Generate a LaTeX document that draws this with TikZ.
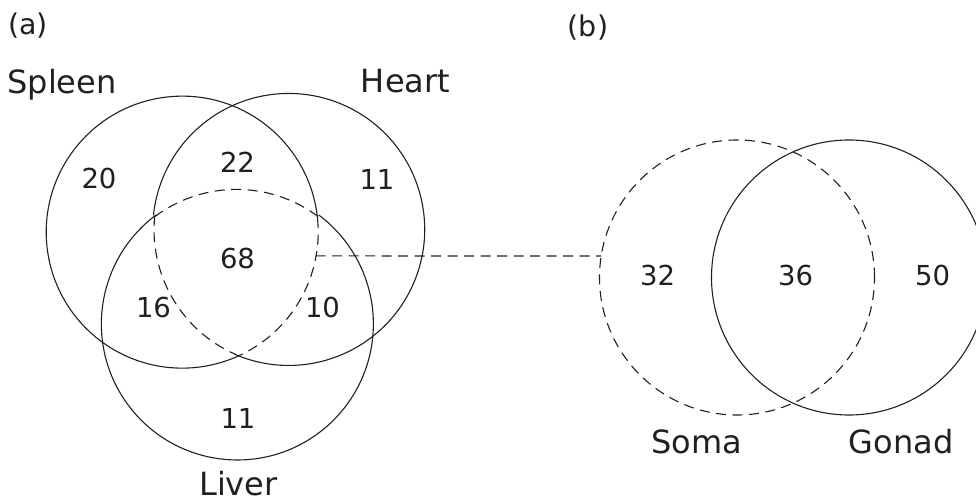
\documentclass[tikz,border=0pt]{standalone}
\usepackage{fontspec}
\setmainfont{DejaVu Sans}
\definecolor{ink}{RGB}{35,31,32}
\begin{document}
\begin{tikzpicture}[x=1pt,y=1pt,
  set/.style={circle, draw=none, inner sep=0pt, outer sep=0pt, minimum size=272pt},
  bigset/.style={circle, draw=none, inner sep=0pt, outer sep=0pt, minimum size=275pt},
  solidline/.style={draw=ink, line width=1.1pt},
  dashline/.style={draw=ink, line width=1.1pt, dash pattern=on 10pt off 6.5pt},
  lbl/.style={inner sep=0pt, anchor=base, text=ink, font=\fontsize{32}{38}\selectfont},
  num/.style={inner sep=0pt, anchor=base, text=ink, font=\fontsize{27.5}{32}\selectfont},
  tag/.style={inner sep=0pt, anchor=center, text=ink, font=\fontsize{28.5}{34}\selectfont}]
\useasboundingbox (0,0) rectangle (976,502);
\clip (0,0) rectangle (976,502);
% (a) sets
\node[set] (spleen) at (182,272) {};
\node[set] (heart) at (290,272) {};
\node[set] (liver) at (236,177) {};
% solid parts
\draw[solidline] (spleen.5.91) arc[start angle=5.91, end angle=293.4, radius=136pt];
\draw[solidline] (heart.246.6) arc[start angle=246.6, end angle=534.09, radius=136pt];
\draw[solidline] (liver.126.72) arc[start angle=126.72, end angle=413.28, radius=136pt];
% dashed boundary of the common part
\draw[dashline] (liver.53.28) arc[start angle=53.28, end angle=126.72, radius=136pt];
\draw[dashline] (spleen.5.91) arc[start angle=5.91, end angle=-66.6, radius=136pt];
\draw[dashline] (heart.174.09) arc[start angle=174.09, end angle=246.6, radius=136pt];
% (b) sets
\node[bigset, draw=ink, line width=1.1pt, dash pattern=on 10pt off 6.5pt] (soma) at (737,224.5) {};
\node[bigset, draw=ink, line width=1.1pt] (gonad) at (849,224.5) {};
% connector
\draw[dashline] (spleen.-11.45) -- (soma.171.43);
% labels
\node[tag] (ta) at (28,476.5) {(a)};
\node[tag] (tb) at (588,474.5) {(b)};
\node[lbl] (lspleen) at (62,408) {Spleen};
\node[lbl] (lheart) at (405.5,409) {Heart};
\node[lbl] (lliver) at (238.5,6) {Liver};
\node[lbl] (lsoma) at (696.5,48) {Soma};
\node[lbl] (lgonad) at (901,48) {Gonad};
% numbers
\node[num] (n20) at (99,313) {20};
\node[num] (n22) at (237.5,329) {22};
\node[num] (n11h) at (377,312) {11};
\node[num] (n68) at (237.5,233) {68};
\node[num] (n16) at (153.5,184) {16};
\node[num] (n10) at (322.5,184) {10};
\node[num] (n11l) at (238,73) {11};
\node[num] (n32) at (657.5,216) {32};
\node[num] (n36) at (795.5,216) {36};
\node[num] (n50) at (932.5,216) {50};
\end{tikzpicture}
\end{document}
